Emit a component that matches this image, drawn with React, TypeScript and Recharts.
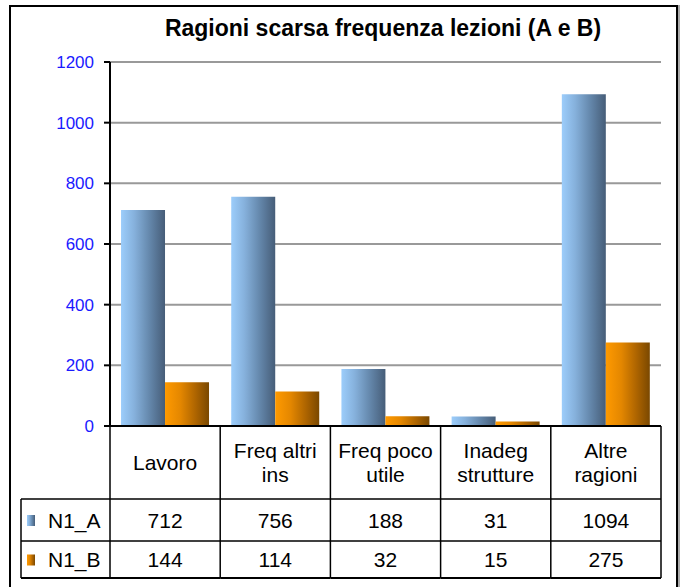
import React from 'react';
import { BarChart, Bar, XAxis, YAxis, CartesianGrid } from 'recharts';

const categories = ['Lavoro', 'Freq altri ins', 'Freq poco utile', 'Inadeg strutture', 'Altre ragioni'];
const categoryLines = [['Lavoro'], ['Freq altri', 'ins'], ['Freq poco', 'utile'], ['Inadeg', 'strutture'], ['Altre', 'ragioni']];
const seriesA = [712, 756, 188, 31, 1094];
const seriesB = [144, 114, 32, 15, 275];
const seriesNames = ['N1_A', 'N1_B'];
const yTicks = [0, 200, 400, 600, 800, 1000, 1200];

const data = categories.map((c, i) => ({ name: c, a: seriesA[i], b: seriesB[i] }));

const W = 683;
const H = 587;
const margin = { top: 62, right: 22, left: 0, bottom: 9 };
const yAxisW = 110;
const cellW = (W - margin.left - margin.right - yAxisW) / categories.length;
const rowH = [73, 42, 37];
const font = 'Arial, "Liberation Sans", sans-serif';
const tableFont = 21;

// category cells + data table are drawn per x-axis tick
function TableTick(props: any) {
  const { x, y, payload } = props;
  const i = payload.index;
  const left = x - cellW / 2;
  const right = x + cellW / 2;
  const r1 = y + rowH[0];
  const r2 = r1 + rowH[1];
  const r3 = r2 + rowH[2];
  const lines = categoryLines[i];
  const lh = 24;
  const cy = y + rowH[0] / 2;
  const ln = { stroke: '#000', strokeWidth: 1.5 };
  const txt = { fontFamily: font, fontSize: tableFont, fill: '#000', textAnchor: 'middle' as const, dominantBaseline: 'central' as const };
  return (
    <g>
      <line x1={left} y1={y} x2={left} y2={r3} {...ln} />
      {i === categories.length - 1 && <line x1={right} y1={y} x2={right} y2={r3} {...ln} />}
      <line x1={left} y1={r1} x2={right} y2={r1} {...ln} />
      <line x1={left} y1={r2} x2={right} y2={r2} {...ln} />
      <line x1={left} y1={r3} x2={right} y2={r3} strokeWidth={2} stroke="#000" />
      {lines.map((t, k) => (
        <text key={k} x={x} y={cy + (k - (lines.length - 1) / 2) * lh} {...txt}>{t}</text>
      ))}
      <text x={x} y={r1 + rowH[1] / 2} {...txt}>{seriesA[i]}</text>
      <text x={x} y={r2 + rowH[2] / 2} {...txt}>{seriesB[i]}</text>
      {i === 0 && (
        <g>
          <line x1={left - 89} y1={r1} x2={left} y2={r1} {...ln} />
          <line x1={left - 89} y1={r2} x2={left} y2={r2} {...ln} />
          <line x1={left - 89} y1={r3} x2={left} y2={r3} strokeWidth={2} stroke="#000" />
          <line x1={left - 89} y1={r1} x2={left - 89} y2={r3} {...ln} />
          <rect x={left - 83} y={r1 + rowH[1] / 2 - 5} width={8} height={11} fill="url(#gradA)" />
          <rect x={left - 83} y={r2 + rowH[2] / 2 - 5} width={8} height={11} fill="url(#gradB)" />
          <text x={left - 62} y={r1 + rowH[1] / 2} {...txt} textAnchor="start">{seriesNames[0]}</text>
          <text x={left - 62} y={r2 + rowH[2] / 2} {...txt} textAnchor="start">{seriesNames[1]}</text>
        </g>
      )}
    </g>
  );
}

export default function App() {
  return (
    <div style={{ position: 'absolute', left: 0, top: 0, width: W, height: H, background: '#fff', overflow: 'hidden' }}>
      <div style={{ position: 'absolute', left: 9, top: 5, width: 665, height: 600, border: '2px solid #000', boxShadow: '2px 0 0 #aaa' }} />
      <div style={{ position: 'absolute', left: 0, top: 15, width: 766, textAlign: 'center', fontFamily: font, fontWeight: 'bold', fontSize: 23, color: '#000' }}>
        Ragioni scarsa frequenza lezioni (A e B)
      </div>
      <div style={{ position: 'absolute', left: 0, top: 0 }}>
        <BarChart width={W} height={H} data={data} margin={margin} barCategoryGap="10%" barGap={0}>
          <defs>
            <linearGradient id="gradA" x1="0" y1="0" x2="1" y2="0">
              <stop offset="0%" stopColor="#9ccdfb" />
              <stop offset="30%" stopColor="#86b1dc" />
              <stop offset="65%" stopColor="#6487ab" />
              <stop offset="100%" stopColor="#465d78" />
            </linearGradient>
            <linearGradient id="gradB" x1="0" y1="0" x2="1" y2="0">
              <stop offset="0%" stopColor="#ff9a00" />
              <stop offset="35%" stopColor="#e48700" />
              <stop offset="70%" stopColor="#ad6400" />
              <stop offset="100%" stopColor="#7a4800" />
            </linearGradient>
          </defs>
          <CartesianGrid horizontal vertical={false} stroke="#999" strokeWidth={2} />
          <YAxis
            width={yAxisW}
            domain={[0, 1200]}
            ticks={yTicks}
            interval={0}
            axisLine={{ stroke: '#000', strokeWidth: 2 }}
            tickLine={{ stroke: '#000', strokeWidth: 2 }}
            tickSize={6}
            tickMargin={10}
            tick={{ fill: '#1a1aff', fontSize: 17, fontFamily: font }}
          />
          <XAxis
            dataKey="name"
            height={H - margin.top - margin.bottom - 364}
            interval={0}
            tickSize={0}
            tickMargin={0}
            tickLine={false}
            axisLine={{ stroke: '#000', strokeWidth: 2 }}
            tick={<TableTick />}
          />
          <Bar dataKey="a" name={seriesNames[0]} fill="url(#gradA)" isAnimationActive={false} />
          <Bar dataKey="b" name={seriesNames[1]} fill="url(#gradB)" isAnimationActive={false} />
        </BarChart>
      </div>
    </div>
  );
}
